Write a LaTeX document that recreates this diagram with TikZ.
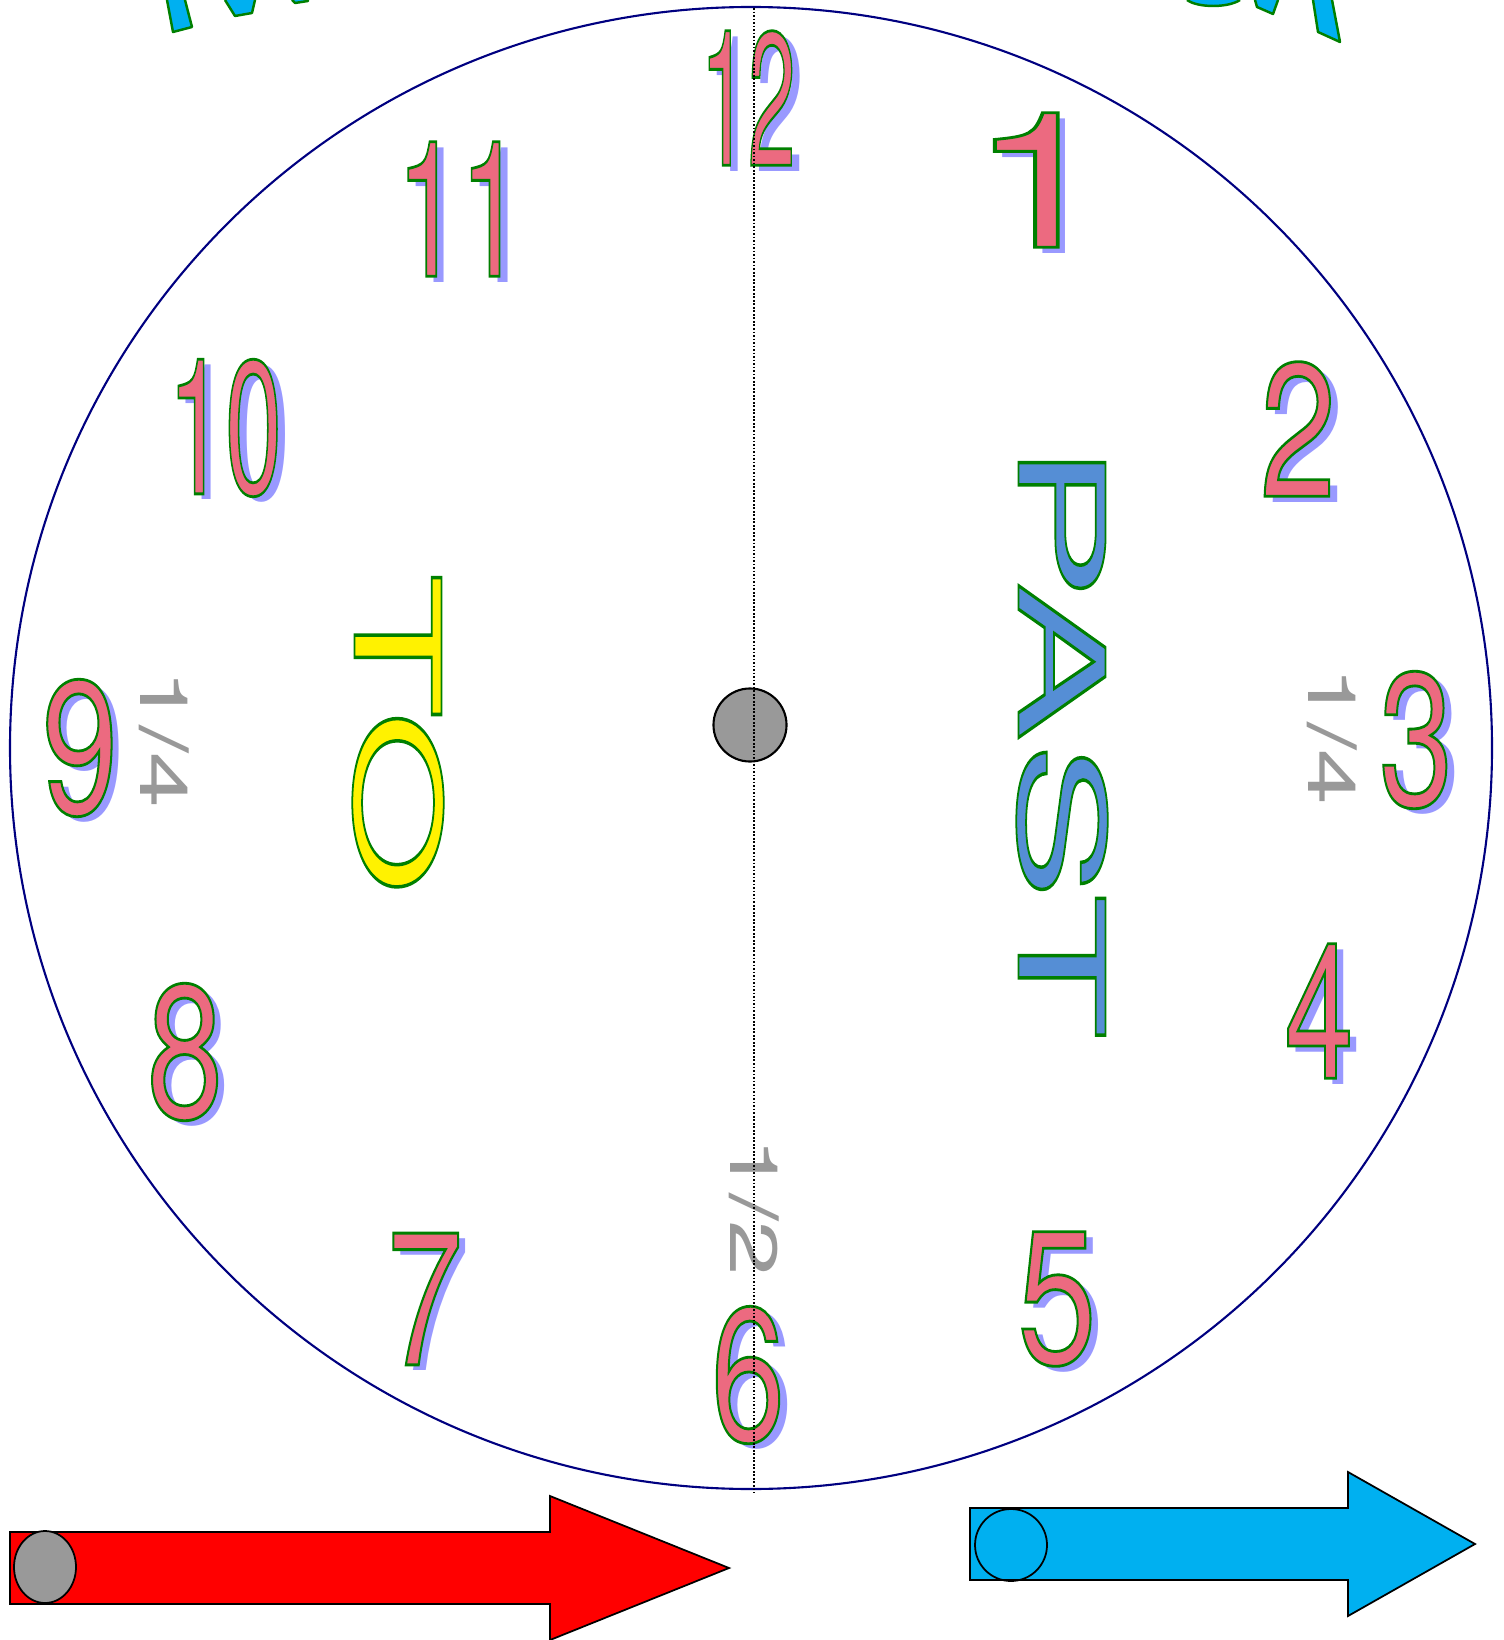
\documentclass[tikz,border=0pt]{standalone}
\usepackage{fontspec}
\setmainfont{TeX Gyre Heros}
\definecolor{dialnavy}{HTML}{000080}
\definecolor{numpink}{HTML}{EC6A80}
\definecolor{numshade}{HTML}{9999FF}
\definecolor{pastblue}{HTML}{558ED5}
\definecolor{arrowblue}{HTML}{00B0F0}
\definecolor{fracgray}{HTML}{999999}
\definecolor{rimgreen}{HTML}{008000}
% outlined text: fill in the text colour, green rim
\newcommand\outl[2][0.8]{\special{pdf:literal direct 2 Tr #1 w 0 0.5 0 RG}#2\special{pdf:literal direct 0 Tr}}

\begin{document}
\begin{tikzpicture}[x=0.01cm,y=-0.01cm,
  num/.style={inner sep=0pt,font=\fontsize{54}{54}\selectfont},
  numback/.style={num,text=numshade},
  numfront/.style={num,text=numpink},
  frac/.style={inner sep=0pt,text=fracgray,rotate=-90,xscale=1.5,font=\fontsize{19}{19}\selectfont},
  word/.style={inner sep=0pt,rotate=-90,xscale=2,font=\fontsize{34}{34}\selectfont},
  title/.style={fill=arrowblue,draw=rimgreen,line width=0.7pt,line join=round}]
\useasboundingbox (0,0) rectangle (1504,1640);

% bits of the arched title, cut by the page edge
\draw[title] (167,0) -- (173,32) -- (192,27) -- (185,0);
\draw[title] (225,0) -- (235,16) -- (252,13) -- (255,0);
\draw[title] (292,0) -- (295,3) -- (308,1) -- (308,0);
\draw[title] (1187,0) .. controls (1198,8) and (1228,8) .. (1240,0);
\draw[title] (1255,0) -- (1257,7) -- (1273,14) -- (1278,0);
\draw[title] (1313,0) -- (1318,32) -- (1340,42) -- (1332,0);

% dial
\coordinate (centre) at (751,748);
\draw[dialnavy,line width=0.6pt] (centre) circle [radius=741];

% hour numbers
\foreach \n/\x/\y/\s in {12/748/98/0.45, 1/1040/180/1.35, 2/1298/429/0.72, 3/1416/740/0.7,
  4/1319/1011/0.65, 5/1057/1299/0.75, 6/748/1375/0.7, 7/425/1299/0.72,
  8/185/1052/0.72, 9/80/748/0.72, 10/225/428/0.54, 11/460/209/0.6}{
  \node[numback,xscale=\s] at (\x+8,\y+6) {\n};
  \node[numfront,xscale=\s] (num\n) at (\x,\y) {\outl{\n}};
}

% quarter and half marks
\node[frac] (qleft) at (164,739) {1/4};
\node[frac] (qright) at (1332,736) {1/4};
\node[frac] (half) at (754,1207) {1/2};

\node[word,text=yellow] (to) at (398,734) {\outl[0.5]{TO}};
\node[word,text=pastblue] (past) at (1062,740) {\outl[0.5]{PAST}};

\node[circle,draw,fill=fracgray,line width=0.6pt,inner sep=0pt,minimum size=0.73cm] (hub) at (750,725) {};
\coordinate (noon) at (754,8);
\coordinate (foot) at (754,1493);
\draw[line width=0.4pt,dash pattern=on 0.5pt off 0.5pt] (noon) -- (foot);

% hands
\draw[fill=red,line width=0.5pt] (10,1532) -- (550,1532) -- (550,1496) -- (729,1568)
  -- (550,1640) -- (550,1604) -- (10,1604) -- cycle;
\draw[fill=fracgray,line width=0.5pt] (45,1567) ellipse [x radius=31,y radius=36];
\draw[fill=arrowblue,line width=0.5pt] (970,1508) -- (1348,1508) -- (1348,1472) -- (1475,1544)
  -- (1348,1616) -- (1348,1580) -- (970,1580) -- cycle;
\draw[line width=0.5pt] (1011,1545) circle [radius=36];
\end{tikzpicture}
\end{document}
